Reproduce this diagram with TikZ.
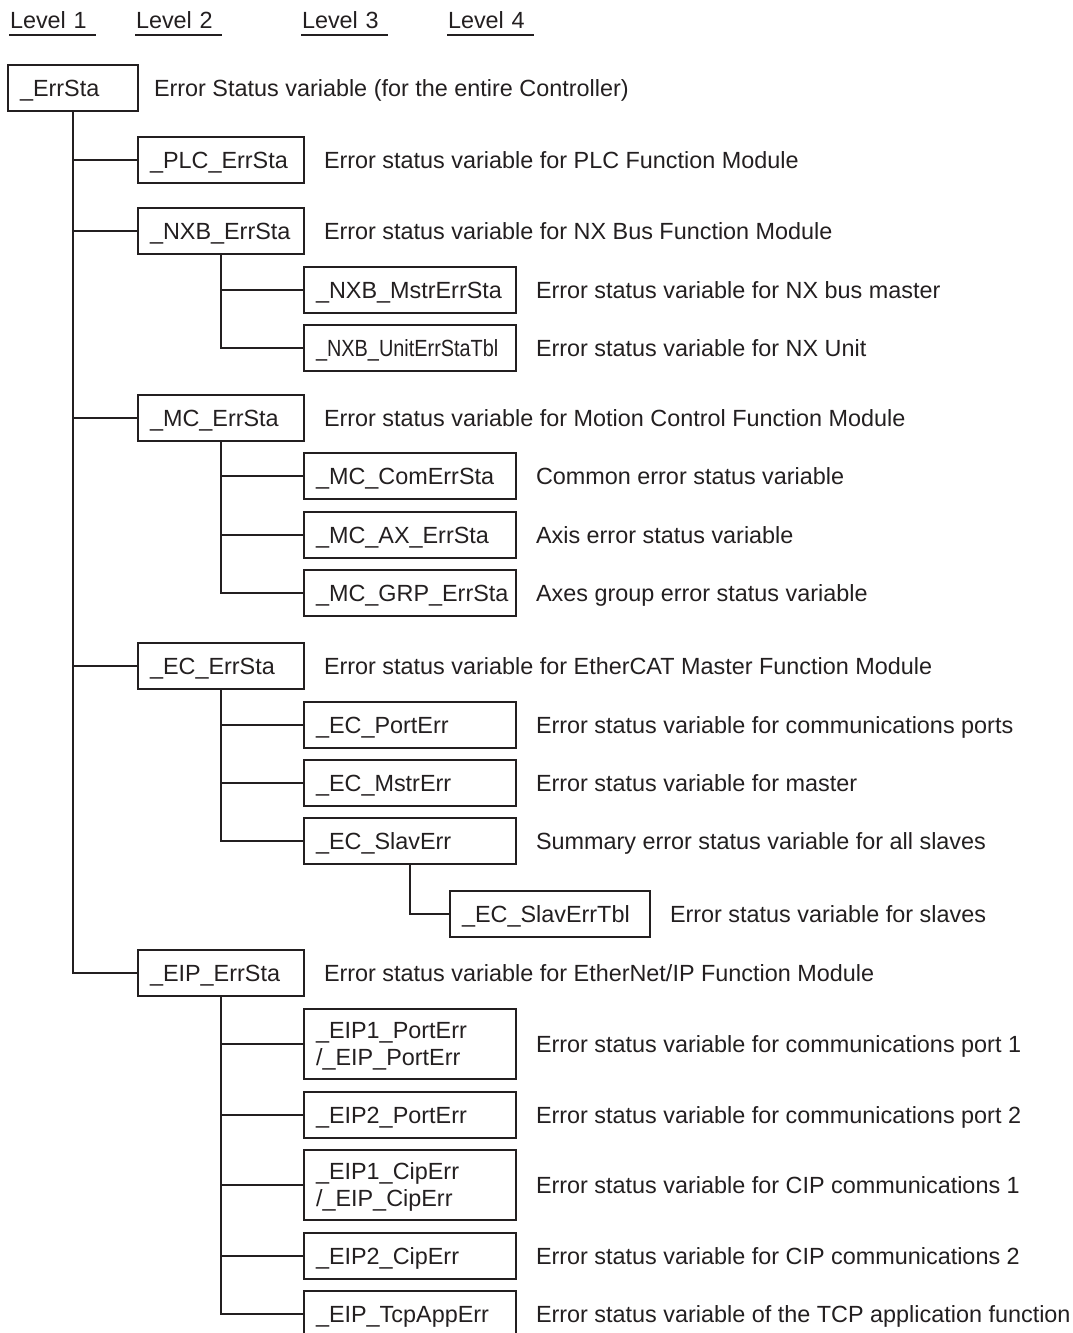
\documentclass[tikz,border=0pt]{standalone}
\usepackage{fontspec}
\setmainfont{Liberation Sans}
\usepackage{graphicx}
\usetikzlibrary{positioning}
\definecolor{ink}{RGB}{35,31,32}

\begin{document}
\begin{tikzpicture}[x=1pt,y=-1pt,color=ink,line width=2pt,
  every node/.style={font=\fontsize{23.4}{27}\selectfont},
  lvl/.style={anchor=south west, inner sep=0pt, text width=85pt, align=left, text height=16.8pt, text depth=6pt},
  var/.style={draw, inner xsep=12pt, inner ysep=13.1pt, minimum height=46pt, align=left, text height=16.8pt, text depth=0pt},
  top/.style={var, text width=106pt},
  mod/.style={var, text width=142pt},
  sub/.style={var, text width=188pt},
  tbl/.style={var, text width=176pt},
  desc/.style={inner sep=0pt, text height=16.8pt, text depth=0pt}]
\useasboundingbox (0,0) rectangle (1073,1333);
\node[lvl] (lv1) at (9,35) {Level 1};
\node[lvl] (lv2) at (135,35) {Level 2};
\node[lvl] (lv3) at (301,35) {Level 3};
\node[lvl] (lv4) at (447,35) {Level 4};
\foreach \l in {lv1,lv2,lv3,lv4} \draw (\l.south west) -- (\l.south east);
\node[top] (errsta) at (73,88) {\_ErrSta};
\node[mod] (plc) at (221,160) {\_PLC\_ErrSta};
\node[mod] (nxb) at (221,231) {\_NXB\_ErrSta};
\node[sub] (nxbmstr) at (410,290) {\_NXB\_MstrErrSta};
\node[sub] (nxbunit) at (410,348) {\scalebox{0.85}[1]{\_NXB\_UnitErrStaTbl}};
\node[mod] (mc) at (221,418) {\_MC\_ErrSta};
\node[sub] (mccom) at (410,476) {\_MC\_ComErrSta};
\node[sub] (mcax) at (410,535) {\_MC\_AX\_ErrSta};
\node[sub] (mcgrp) at (410,593) {\_MC\_GRP\_ErrSta};
\node[mod] (ec) at (221,666) {\_EC\_ErrSta};
\node[sub] (ecport) at (410,725) {\_EC\_PortErr};
\node[sub] (ecmstr) at (410,783) {\_EC\_MstrErr};
\node[sub] (ecslav) at (410,841) {\_EC\_SlavErr};
\node[tbl] (ecslavtbl) at (550,914) {\_EC\_SlavErrTbl};
\node[mod] (eip) at (221,973) {\_EIP\_ErrSta};
\node[sub, text depth=27pt] (eip1port) at (410,1044) {\_EIP1\_PortErr\\/\_EIP\_PortErr};
\node[sub] (eip2port) at (410,1115) {\_EIP2\_PortErr};
\node[sub, text depth=27pt] (eip1cip) at (410,1185) {\_EIP1\_CipErr\\/\_EIP\_CipErr};
\node[sub] (eip2cip) at (410,1256) {\_EIP2\_CipErr};
\node[sub] (eiptcp) at (410,1314) {\_EIP\_TcpAppErr};
\node[desc, right=14pt of errsta] (errstad) {Error Status variable (for the entire Controller)};
\node[desc, right=18pt of plc] (plcd) {Error status variable for PLC Function Module};
\node[desc, right=18pt of nxb] (nxbd) {Error status variable for NX Bus Function Module};
\node[desc, right=18pt of nxbmstr] (nxbmstrd) {Error status variable for NX bus master};
\node[desc, right=18pt of nxbunit] (nxbunitd) {Error status variable for NX Unit};
\node[desc, right=18pt of mc] (mcd) {Error status variable for Motion Control Function Module};
\node[desc, right=18pt of mccom] (mccomd) {Common error status variable};
\node[desc, right=18pt of mcax] (mcaxd) {Axis error status variable};
\node[desc, right=18pt of mcgrp] (mcgrpd) {Axes group error status variable};
\node[desc, right=18pt of ec] (ecd) {Error status variable for EtherCAT Master Function Module};
\node[desc, right=18pt of ecport] (ecportd) {Error status variable for communications ports};
\node[desc, right=18pt of ecmstr] (ecmstrd) {Error status variable for master};
\node[desc, right=18pt of ecslav] (ecslavd) {Summary error status variable for all slaves};
\node[desc, right=18pt of ecslavtbl] (ecslavtbld) {Error status variable for slaves};
\node[desc, right=18pt of eip] (eipd) {Error status variable for EtherNet/IP Function Module};
\node[desc, right=18pt of eip1port] (eip1portd) {Error status variable for communications port 1};
\node[desc, right=18pt of eip2port] (eip2portd) {Error status variable for communications port 2};
\node[desc, right=18pt of eip1cip] (eip1cipd) {Error status variable for CIP communications 1};
\node[desc, right=18pt of eip2cip] (eip2cipd) {Error status variable for CIP communications 2};
\node[desc, right=18pt of eiptcp] (eiptcpd) {Error status variable of the TCP application function};
\foreach \c in {plc,nxb,mc,ec,eip} \draw (errsta.south) |- (\c.west);
\foreach \c in {nxbmstr,nxbunit} \draw (nxb.south) |- (\c.west);
\foreach \c in {mccom,mcax,mcgrp} \draw (mc.south) |- (\c.west);
\foreach \c in {ecport,ecmstr,ecslav} \draw (ec.south) |- (\c.west);
\draw (ecslav.south) |- (ecslavtbl.west);
\foreach \c in {eip1port,eip2port,eip1cip,eip2cip,eiptcp} \draw (eip.south) |- (\c.west);
\end{tikzpicture}
\end{document}
